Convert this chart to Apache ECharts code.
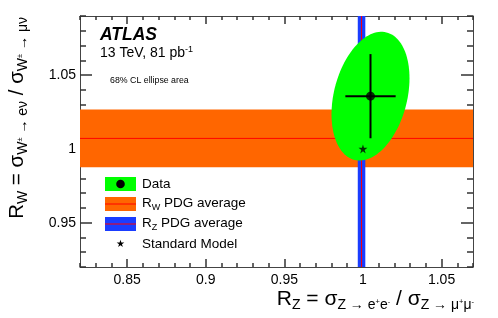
<!DOCTYPE html>
<html><head><meta charset="utf-8">
<script src="https://cdn.jsdelivr.net/npm/echarts@6/dist/echarts.min.js"></script>
<style>html,body{margin:0;padding:0;background:#fff}#c{width:498px;height:318px}</style>
</head><body><div id="c"></div>
<script>
// ---- data ----
const xRange = [0.82, 1.07];
const yRange = [0.92, 1.09];
const xMajorTicks = [0.85, 0.9, 0.95, 1.0, 1.05];
const yMajorTicks = [0.95, 1.0, 1.05];
const xMinorTicks = [0.82,0.83,0.84,0.85,0.86,0.87,0.88,0.89,0.90,0.91,0.92,0.93,0.94,0.95,0.96,0.97,0.98,0.99,1.00,1.01,1.02,1.03,1.04,1.05,1.06,1.07];
const yMinorTicks = [0.92,0.93,0.94,0.95,0.96,0.97,0.98,0.99,1.00,1.01,1.02,1.03,1.04,1.05,1.06,1.07,1.08,1.09];
const dataPoint = [1.0048, 1.0357];
const dataError = [0.016, 0.0285];
const ellipseHalfAxes = [0.0248, 0.0436];
const ellipseCorrelation = 0.28;
const rwPdg = [1.0071, 0.0196];
const rzPdg = [0.9991, 0.0024];
const standardModel = [1.0, 1.0];

const FONT = "'Liberation Sans', Arial, Helvetica, sans-serif";
const AXC = '#444';
const TKC = '#333';
const STAR = 'path://M50,0 L61,35 L98,35 L68,57 L79,91 L50,70 L21,91 L32,57 L2,35 L39,35 Z';

function tok(f, d, extra) {
  return Object.assign({fontSize: f, lineHeight: f, verticalAlign: 'bottom', fontFamily: FONT, fill: '#000',
    padding: [0, 0, Math.max(0, d - 0.18 * f), 0]}, extra || {});
}

function xAx(g, pos, ticks, len, showLine, showLabel) {
  return {type: 'value', gridIndex: g, position: pos, min: xRange[0], max: xRange[1],
    axisLine: {show: showLine, onZero: false, lineStyle: {color: AXC, width: 1}},
    axisTick: {show: true, inside: true, length: len, customValues: ticks, lineStyle: {color: TKC, width: 1.5}},
    axisLabel: {show: showLabel, customValues: ticks, color: '#000', fontSize: 14, fontFamily: FONT, margin: 6},
    splitLine: {show: false}};
}
function yAx(g, pos, ticks, len, showLine, showLabel) {
  return {type: 'value', gridIndex: g, position: pos, min: yRange[0], max: yRange[1],
    axisLine: {show: showLine, onZero: false, lineStyle: {color: AXC, width: 1}},
    axisTick: {show: true, inside: true, length: len, customValues: ticks, lineStyle: {color: TKC, width: 1.5}},
    axisLabel: {show: showLabel, customValues: ticks, color: '#000', fontSize: 14, fontFamily: FONT, margin: 4},
    splitLine: {show: false}};
}

const chart = echarts.init(document.getElementById('c'), null, {renderer: 'canvas'});

const series = [
  { // R_W PDG band
    type: 'custom', z: 2, data: [[rwPdg[0] - rwPdg[1], rwPdg[0] + rwPdg[1], rwPdg[0]]],
    renderItem(params, api) {
      const cs = params.coordSys;
      const yLo = api.coord([xRange[0], api.value(0)])[1];
      const yHi = api.coord([xRange[0], api.value(1)])[1];
      const yC = api.coord([xRange[0], api.value(2)])[1];
      return {type: 'group', children: [
        {type: 'rect', shape: {x: cs.x, y: yHi, width: cs.width, height: yLo - yHi}, style: {fill: '#ff6600'}},
        {type: 'line', shape: {x1: cs.x, y1: yC, x2: cs.x + cs.width, y2: yC}, style: {stroke: '#ff0000', lineWidth: 1}}
      ]};
    }
  },
  { // R_Z PDG band
    type: 'custom', z: 3, data: [[rzPdg[0] - rzPdg[1], rzPdg[0] + rzPdg[1], rzPdg[0]]],
    renderItem(params, api) {
      const cs = params.coordSys;
      const xLo = api.coord([api.value(0), yRange[0]])[0];
      const xHi = api.coord([api.value(1), yRange[0]])[0];
      const xC = api.coord([api.value(2), yRange[0]])[0];
      return {type: 'group', children: [
        {type: 'rect', shape: {x: xLo, y: cs.y, width: xHi - xLo, height: cs.height}, style: {fill: '#1a3dff'}},
        {type: 'line', shape: {x1: xC, y1: cs.y, x2: xC, y2: cs.y + cs.height}, style: {stroke: '#ff0000', lineWidth: 1}}
      ]};
    }
  },
  { // 68% CL ellipse
    type: 'custom', z: 4,
    data: [[dataPoint[0], dataPoint[1], ellipseHalfAxes[0], ellipseHalfAxes[1], ellipseCorrelation]],
    renderItem(params, api) {
      const cx = api.value(0), cy = api.value(1), ax = api.value(2), ay = api.value(3), r = api.value(4);
      const pts = [];
      for (let i = 0; i < 120; i++) {
        const t = i / 120 * Math.PI * 2;
        pts.push(api.coord([cx + ax * Math.cos(t), cy + ay * (r * Math.cos(t) + Math.sqrt(1 - r * r) * Math.sin(t))]));
      }
      return {type: 'polygon', shape: {points: pts}, style: {fill: '#00ff00'}};
    }
  },
  { // error bars
    type: 'custom', z: 5, data: [[dataPoint[0], dataPoint[1], dataError[0], dataError[1]]],
    renderItem(params, api) {
      const x = api.value(0), y = api.value(1), ex = api.value(2), ey = api.value(3);
      const a = api.coord([x - ex, y]), b = api.coord([x + ex, y]);
      const c = api.coord([x, y - ey]), d = api.coord([x, y + ey]);
      return {type: 'group', children: [
        {type: 'line', shape: {x1: a[0], y1: a[1], x2: b[0], y2: b[1]}, style: {stroke: '#000', lineWidth: 2}},
        {type: 'line', shape: {x1: c[0], y1: c[1], x2: d[0], y2: d[1]}, style: {stroke: '#000', lineWidth: 2}}
      ]};
    }
  },
  {type: 'scatter', z: 6, symbol: 'circle', symbolSize: 9, itemStyle: {color: '#000'}, data: [dataPoint]},
  {type: 'scatter', z: 6, symbol: STAR, symbolSize: 9, itemStyle: {color: '#000'}, data: [standardModel]}
];

const legendRows = [184, 204, 224, 244];
const LX = 105, LW = 31, LH = 14, TX = 142;
const graphic = [
  {type: 'text', left: 100, top: 26, style: {text: 'ATLAS', font: 'italic bold 17.5px ' + FONT, fill: '#000'}},
  {type: 'text', left: 100, top: 45, style: {text: '{n|13 TeV, 81 pb}{sup|-1}', rich: {n: tok(14, 3), sup: tok(9, 8)}}},
  {type: 'text', left: 110, top: 76, style: {text: '68% CL ellipse area', font: '8.8px ' + FONT, fill: '#000'}},
  // legend
  {type: 'rect', shape: {x: LX, y: legendRows[0] - LH / 2, width: LW, height: LH}, style: {fill: '#00ff00'}},
  {type: 'circle', shape: {cx: LX + LW / 2, cy: legendRows[0], r: 4.3}, style: {fill: '#000'}},
  {type: 'text', x: TX, y: legendRows[0], style: {text: 'Data', font: '13.5px ' + FONT, fill: '#000', verticalAlign: 'middle'}},
  {type: 'rect', shape: {x: LX, y: legendRows[1] - LH / 2, width: LW, height: LH}, style: {fill: '#ff6600'}},
  {type: 'line', shape: {x1: LX, y1: legendRows[1], x2: LX + LW, y2: legendRows[1]}, style: {stroke: '#ff0000', lineWidth: 1}},
  {type: 'text', x: TX, y: legendRows[1] + 8, style: {text: '{m|R}{s|W}{m| PDG average}', verticalAlign: 'bottom', rich: {m: tok(13.5, 4), s: tok(9, 1)}}},
  {type: 'rect', shape: {x: LX, y: legendRows[2] - LH / 2, width: LW, height: LH}, style: {fill: '#1a3dff'}},
  {type: 'line', shape: {x1: LX, y1: legendRows[2], x2: LX + LW, y2: legendRows[2]}, style: {stroke: '#ff0000', lineWidth: 1}},
  {type: 'text', x: TX, y: legendRows[2] + 8, style: {text: '{m|R}{s|Z}{m| PDG average}', verticalAlign: 'bottom', rich: {m: tok(13.5, 4), s: tok(9, 1)}}},
  {type: 'text', x: LX + LW / 2, y: legendRows[3], style: {text: '★', font: '10px DejaVu Sans', fill: '#000', align: 'center', verticalAlign: 'middle'}},
  {type: 'text', x: TX, y: legendRows[3], style: {text: 'Standard Model', font: '13.5px ' + FONT, fill: '#000', verticalAlign: 'middle'}},
  // axis titles
  {type: 'text', x: 474, y: 312, style: {align: 'right', verticalAlign: 'bottom',
    text: '{m|R}{s|Z}{m| = σ}{s|Z → e}{ss|+}{s|e}{ss|-}{m| / σ}{s|Z → μ}{ss|+}{s|μ}{ss|-}',
    rich: {m: tok(21, 6), s: tok(14, 2), ss: tok(7.5, 7.5)}}},
  {type: 'text', x: 30, y: 17, rotation: Math.PI / 2, style: {align: 'right', verticalAlign: 'bottom',
    text: '{m|R}{s|W}{m| = σ}{s|W}{ss|±}{s| → eν}{m| / σ}{s|W}{ss|±}{s| → μν}',
    rich: {m: tok(20.5, 6), s: tok(14, 2), ss: tok(7.5, 7.5)}}}
];

const gridBox = {left: 80, right: 25, top: 16, bottom: 51, containLabel: false};

chart.setOption({
  animation: false,
  backgroundColor: '#fff',
  grid: [gridBox, gridBox, gridBox, gridBox],
  xAxis: [xAx(0, 'bottom', xMajorTicks, 8, true, true), xAx(1, 'bottom', xMinorTicks, 4, false, false),
          xAx(2, 'top', xMajorTicks, 8, true, false), xAx(3, 'top', xMinorTicks, 4, false, false)],
  yAxis: [yAx(0, 'left', yMajorTicks, 12, true, true), yAx(1, 'left', yMinorTicks, 6, false, false),
          yAx(2, 'right', yMajorTicks, 12, true, false), yAx(3, 'right', yMinorTicks, 6, false, false)],
  series: series.map(s => Object.assign({xAxisIndex: 0, yAxisIndex: 0, silent: true}, s)),
  graphic: graphic
});
</script></body></html>
